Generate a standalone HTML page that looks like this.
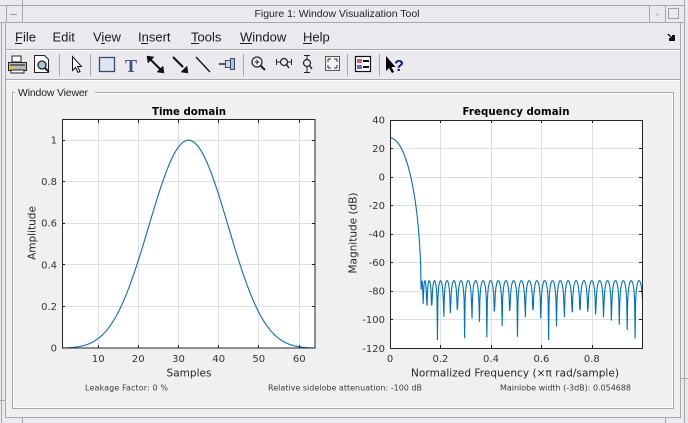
<!DOCTYPE html>
<html><head><meta charset="utf-8">
<style>
html,body{margin:0;padding:0;background:#ebe9ee;overflow:hidden;}
svg{display:block;}
</style></head><body>
<svg id="s" width="688" height="423" viewBox="0 0 688 423" xmlns="http://www.w3.org/2000/svg" font-family="'DejaVu Sans', sans-serif">
<defs>
<clipPath id="c1"><rect x="62" y="119.5" width="253" height="228.5"/></clipPath>
<clipPath id="c2"><rect x="390" y="120" width="252.5" height="228.3"/></clipPath>
</defs>
<rect width="688" height="423" fill="#ebe9ee"/>
<!-- panel -->
<rect x="6" y="80" width="674" height="337" fill="#f0f0f0"/>

<!-- frame lines -->
<g stroke="#a9a8ad" stroke-width="1" fill="none" shape-rendering="crispEdges">
<line x1="0" y1="5.5" x2="685" y2="5.5"/>
<line x1="0" y1="22.5" x2="685" y2="22.5"/>
<line x1="22.5" y1="0" x2="22.5" y2="22"/>
<line x1="6.5" y1="5" x2="6.5" y2="22"/>
<line x1="649.5" y1="5" x2="649.5" y2="22"/>
<line x1="665.5" y1="5" x2="665.5" y2="22"/>
<line x1="684.5" y1="0" x2="684.5" y2="423"/>
<line x1="5.5" y1="22" x2="5.5" y2="418"/>
<line x1="680.5" y1="22" x2="680.5" y2="418"/>
<line x1="5" y1="417.5" x2="681" y2="417.5"/>
<line x1="6" y1="49.5" x2="680" y2="49.5"/>
<line x1="6" y1="79.5" x2="680" y2="79.5"/>
<line x1="22.5" y1="418" x2="22.5" y2="423"/>
<line x1="665.5" y1="418" x2="665.5" y2="423"/>
<line x1="0" y1="400.5" x2="5" y2="400.5"/>
<line x1="681" y1="378.5" x2="688" y2="378.5"/>
<line x1="1.5" y1="22" x2="1.5" y2="423"/>
</g>
<g stroke="#ffffff" stroke-width="1" shape-rendering="crispEdges">
<line x1="6" y1="50.5" x2="680" y2="50.5"/>
<line x1="6" y1="80.5" x2="680" y2="80.5"/>
</g>
<!-- title bar widgets -->
<line x1="10" y1="14.5" x2="17" y2="14.5" stroke="#9a99a0" shape-rendering="crispEdges"/>
<rect x="656.5" y="13.5" width="2" height="2" fill="#b0afb4"/>
<rect x="668.5" y="8.5" width="10" height="10" fill="none" stroke="#a0a0a5" shape-rendering="crispEdges"/>
<text x="337" y="17" text-anchor="middle" font-family="'Liberation Sans', sans-serif" font-size="10.5" fill="#222" textLength="165">Figure 1: Window Visualization Tool</text>

<!-- menu -->
<g font-family="'Liberation Sans', sans-serif" font-size="13" fill="#1a1a1a">
<text x="15" y="41.5">File</text>
<text x="52.5" y="41.5">Edit</text>
<text x="93" y="41.5">View</text>
<text x="138" y="41.5">Insert</text>
<text x="191" y="41.5">Tools</text>
<text x="240" y="41.5">Window</text>
<text x="303" y="41.5">Help</text>
</g>
<g stroke="#1a1a1a" stroke-width="1" shape-rendering="crispEdges">
<line x1="15" y1="43.5" x2="22" y2="43.5"/>
<line x1="101" y1="43.5" x2="105" y2="43.5"/>
<line x1="141" y1="43.5" x2="148" y2="43.5"/>
<line x1="191" y1="43.5" x2="199" y2="43.5"/>
<line x1="240" y1="43.5" x2="252" y2="43.5"/>
<line x1="303" y1="43.5" x2="312" y2="43.5"/>
</g>
<!-- menu right icon -->
<path d="M667 34 L669 34 L672 37 L672 35 L675 35 L675 41 L669 41 L669 38 L671 38 Z" fill="#111"/>

<!-- toolbar separators -->
<g shape-rendering="crispEdges">
<line x1="59.5" y1="54" x2="59.5" y2="76" stroke="#a9a8ad"/>
<line x1="90.5" y1="54" x2="90.5" y2="76" stroke="#a9a8ad"/>
<line x1="243.5" y1="54" x2="243.5" y2="76" stroke="#a9a8ad"/>
<line x1="347.5" y1="54" x2="347.5" y2="76" stroke="#a9a8ad"/>
<line x1="379.5" y1="54" x2="379.5" y2="76" stroke="#a9a8ad"/>
</g>
<!-- printer -->
<g>
<rect x="12" y="56" width="9" height="6" fill="#fff" stroke="#222"/>
<path d="M8.5 62.5 H26.5 V70.5 H8.5 Z" fill="#b8b8b8" stroke="#222"/>
<rect x="10" y="64" width="15" height="2" fill="#666"/>
<rect x="10" y="67" width="4" height="2" fill="#e8d000"/>
<rect x="11" y="70" width="13" height="3" fill="#fff" stroke="#222"/>
</g>
<!-- print preview -->
<g>
<path d="M34.5 55.5 H44.5 L48.5 59.5 V72.5 H34.5 Z" fill="#fff" stroke="#222"/>
<circle cx="42" cy="65" r="4" fill="#a8c8e0" stroke="#222" stroke-width="1.3"/>
<line x1="45" y1="68" x2="49" y2="72" stroke="#222" stroke-width="2"/>
</g>
<!-- arrow cursor -->
<path d="M72.5 56.5 L72.5 70.5 L75.5 67.5 L78 72.5 L80 71.5 L77.5 66.5 L81.5 66.5 Z" fill="#fff" stroke="#111" stroke-width="1"/>
<!-- rectangle -->
<rect x="99.5" y="57.5" width="15" height="14" fill="#dfe6f2" stroke="#3a4a6e" stroke-width="1.3"/>
<!-- T -->
<text x="131" y="72" text-anchor="middle" font-family="'Liberation Serif', serif" font-weight="bold" font-size="18" fill="#3b5282">T</text>
<!-- double arrow -->
<g stroke="#111" stroke-width="2" fill="#111">
<line x1="150" y1="59" x2="160" y2="69"/>
<path d="M147 56 L154 57 L148 63 Z" stroke-width="0.5"/>
<path d="M164 73 L157 72 L163 66 Z" stroke-width="0.5"/>
<line x1="173" y1="57" x2="183" y2="67"/>
<path d="M188 73 L181 72 L187 66 Z" stroke-width="0.5"/>
</g>
<line x1="196" y1="57" x2="210" y2="72" stroke="#111" stroke-width="1.3"/>
<!-- pin -->
<g>
<rect x="219" y="63" width="6" height="2" fill="#555"/>
<path d="M225.5 60.5 H230.5 V67.5 H225.5 Z" fill="#c8d8ee" stroke="#3a4a6e"/>
<path d="M230.5 58.5 H234.5 V69.5 H230.5 Z" fill="#a8c0e0" stroke="#3a4a6e"/>
</g>
<!-- zoom in -->
<g stroke="#222" fill="none">
<circle cx="257" cy="62" r="5" fill="#f4f4f4" stroke-width="1.2"/>
<line x1="254.5" y1="62" x2="259.5" y2="62"/>
<line x1="257" y1="59.5" x2="257" y2="64.5"/>
<line x1="260.5" y1="65.5" x2="265" y2="70" stroke-width="2"/>
</g>
<!-- zoom x -->
<g stroke="#222" fill="none">
<circle cx="284" cy="62" r="3.5" stroke-width="1.2"/>
<line x1="276.5" y1="59" x2="276.5" y2="65"/>
<line x1="291.5" y1="59" x2="291.5" y2="65"/>
<line x1="277" y1="62" x2="280.5" y2="62"/>
<line x1="287.5" y1="62" x2="291" y2="62"/>
<line x1="286.5" y1="64.5" x2="289" y2="68" stroke-width="1.5"/>
</g>
<!-- zoom y -->
<g stroke="#222" fill="none">
<circle cx="307" cy="63" r="3.5" stroke-width="1.2"/>
<line x1="304" y1="55.5" x2="310" y2="55.5"/>
<line x1="304" y1="72.5" x2="310" y2="72.5"/>
<line x1="307" y1="56" x2="307" y2="59.5"/>
<line x1="307" y1="66.5" x2="307" y2="72"/>
<line x1="309.5" y1="65.5" x2="312" y2="69" stroke-width="1.5"/>
</g>
<!-- fit -->
<g>
<rect x="325.5" y="56.5" width="14" height="14" fill="#f2f2f2" stroke="#555"/>
<path d="M328 59 L331 59 M328 59 L328 62 M337 59 L334 59 M337 59 L337 62 M328 68 L331 68 M328 68 L328 65 M337 68 L334 68 M337 68 L337 65" stroke="#333" stroke-width="1"/>
</g>
<!-- legend -->
<g>
<rect x="355.5" y="56.5" width="15" height="15" fill="#fff" stroke="#111" stroke-width="1.2"/>
<rect x="357" y="59" width="5" height="4" fill="#e06060"/>
<rect x="357" y="65" width="5" height="4" fill="#6070e0"/>
<rect x="363" y="60" width="6" height="2" fill="#111"/>
<rect x="363" y="66" width="6" height="2" fill="#111"/>
</g>
<!-- help -->
<path d="M386 56 L386 71 L389 68 L392 73 L394 72 L391.5 67 L395.5 67 Z" fill="#000"/>
<text x="399" y="71" text-anchor="middle" font-family="'Liberation Sans', sans-serif" font-weight="bold" font-size="16" fill="#0a1a80">?</text>

<!-- groupbox -->
<rect x="12.5" y="92.5" width="661" height="316" fill="none" stroke="#a8a8a8" shape-rendering="crispEdges"/>
<rect x="13.5" y="93.5" width="659" height="314" fill="none" stroke="#ffffff" shape-rendering="crispEdges"/>
<rect x="15" y="86" width="80" height="10" fill="#f0f0f0"/>
<text x="18" y="96" font-family="'Liberation Sans', sans-serif" font-size="10.5" fill="#222" textLength="70">Window Viewer</text>

<!-- LEFT AXES -->
<rect x="62" y="119.5" width="253" height="228.5" fill="#fff"/>
<g stroke="#dfdfdf" stroke-width="1" shape-rendering="crispEdges">
<line x1="98.5" y1="120" x2="98.5" y2="348"/>
<line x1="138.5" y1="120" x2="138.5" y2="348"/>
<line x1="178.5" y1="120" x2="178.5" y2="348"/>
<line x1="218.5" y1="120" x2="218.5" y2="348"/>
<line x1="258.5" y1="120" x2="258.5" y2="348"/>
<line x1="299.5" y1="120" x2="299.5" y2="348"/>
<line x1="62" y1="306.5" x2="315" y2="306.5"/>
<line x1="62" y1="264.5" x2="315" y2="264.5"/>
<line x1="62" y1="223.5" x2="315" y2="223.5"/>
<line x1="62" y1="181.5" x2="315" y2="181.5"/>
<line x1="62" y1="140.5" x2="315" y2="140.5"/>
</g>
<g id="tcurve" clip-path="url(#c1)"></g>
<g stroke="#262626" stroke-width="1" fill="none" shape-rendering="crispEdges">
<rect x="62.5" y="119.5" width="252.5" height="228.5"/>
<path d="M98.5 348 v-3 M138.5 348 v-3 M178.5 348 v-3 M218.5 348 v-3 M258.5 348 v-3 M299.5 348 v-3
M98.5 120 v3 M138.5 120 v3 M178.5 120 v3 M218.5 120 v3 M258.5 120 v3 M299.5 120 v3
M62 306.5 h3 M62 264.5 h3 M62 223.5 h3 M62 181.5 h3 M62 140.5 h3
M315 306.5 h-3 M315 264.5 h-3 M315 223.5 h-3 M315 181.5 h-3 M315 140.5 h-3"/>
</g>
<g font-size="10" fill="#333" text-anchor="end">
<text x="57" y="351.5">0</text>
<text x="57" y="310">0.2</text>
<text x="57" y="268.3">0.4</text>
<text x="57" y="226.7">0.6</text>
<text x="57" y="185">0.8</text>
<text x="57" y="143.5">1</text>
</g>
<g font-size="10" fill="#333" text-anchor="middle">
<text x="98.3" y="362">10</text>
<text x="138.3" y="362">20</text>
<text x="178.5" y="362">30</text>
<text x="218.7" y="362">40</text>
<text x="258.8" y="362">50</text>
<text x="299.2" y="362">60</text>
</g>
<text x="189" y="376.5" font-size="10.5" fill="#262626" text-anchor="middle" textLength="45">Samples</text>
<text transform="translate(35.5 233) rotate(-90)" font-size="10.5" fill="#262626" text-anchor="middle">Amplitude</text>
<text x="189" y="115" font-size="10.2" font-weight="bold" fill="#000" text-anchor="middle" textLength="74">Time domain</text>

<!-- RIGHT AXES -->
<rect x="390" y="120" width="252.5" height="228.3" fill="#fff"/>
<g stroke="#dfdfdf" stroke-width="1" shape-rendering="crispEdges">
<line x1="440.5" y1="120" x2="440.5" y2="348"/>
<line x1="491.5" y1="120" x2="491.5" y2="348"/>
<line x1="541.5" y1="120" x2="541.5" y2="348"/>
<line x1="592.5" y1="120" x2="592.5" y2="348"/>
<line x1="390" y1="148.5" x2="642" y2="148.5"/>
<line x1="390" y1="177.5" x2="642" y2="177.5"/>
<line x1="390" y1="205.5" x2="642" y2="205.5"/>
<line x1="390" y1="234.5" x2="642" y2="234.5"/>
<line x1="390" y1="262.5" x2="642" y2="262.5"/>
<line x1="390" y1="291.5" x2="642" y2="291.5"/>
<line x1="390" y1="319.5" x2="642" y2="319.5"/>
</g>
<g id="fcurve" clip-path="url(#c2)"></g>
<g stroke="#262626" stroke-width="1" fill="none" shape-rendering="crispEdges">
<rect x="390.5" y="120.5" width="252" height="227.8"/>
<path d="M440.5 348 v-3 M491.5 348 v-3 M541.5 348 v-3 M592.5 348 v-3
M440.5 120 v3 M491.5 120 v3 M541.5 120 v3 M592.5 120 v3
M390 148.5 h3 M390 177.5 h3 M390 205.5 h3 M390 234.5 h3 M390 262.5 h3 M390 291.5 h3 M390 319.5 h3
M642 148.5 h-3 M642 177.5 h-3 M642 205.5 h-3 M642 234.5 h-3 M642 262.5 h-3 M642 291.5 h-3 M642 319.5 h-3"/>
</g>
<g font-size="10" fill="#333" text-anchor="end">
<text x="385" y="123.5">40</text>
<text x="385" y="152">20</text>
<text x="385" y="180.6">0</text>
<text x="385" y="209.1">-20</text>
<text x="385" y="237.6">-40</text>
<text x="385" y="266.1">-60</text>
<text x="385" y="294.7">-80</text>
<text x="385" y="323.2">-100</text>
<text x="385" y="351.8">-120</text>
</g>
<g font-size="10" fill="#333" text-anchor="middle">
<text x="390" y="362">0</text>
<text x="440.4" y="362">0.2</text>
<text x="491" y="362">0.4</text>
<text x="541.4" y="362">0.6</text>
<text x="591.8" y="362">0.8</text>
</g>
<text x="515" y="376.5" font-size="10.5" fill="#262626" text-anchor="middle" textLength="208">Normalized Frequency  (×π rad/sample)</text>
<text transform="translate(356.5 233) rotate(-90)" font-size="10.5" fill="#262626" text-anchor="middle">Magnitude (dB)</text>
<text x="516" y="115" font-size="10.2" font-weight="bold" fill="#000" text-anchor="middle" textLength="107">Frequency domain</text>

<!-- bottom info -->
<g font-size="8" fill="#3a3a3a">
<text x="85" y="390.5" textLength="83">Leakage Factor: 0 %</text>
<text x="268" y="390.5" textLength="154">Relative sidelobe attenuation: -100 dB</text>
<text x="500" y="390.5" textLength="131">Mainlobe width (-3dB): 0.054688</text>
</g>
</svg>
<script>
(function(){
var N=64,r=100;
var gamma=Math.pow(10,-r/20);
var beta=Math.cosh(Math.acosh(1/gamma)/(N-1));
var p=[],k,j;
for(k=0;k<N;k++){
  var x=beta*Math.cos(Math.PI*k/N),v;
  if(x>1)v=Math.cosh((N-1)*Math.acosh(x));
  else if(x<-1)v=-Math.cosh((N-1)*Math.acosh(-x));
  else v=Math.cos((N-1)*Math.acos(x));
  p.push(v);
}
var w=[],c=(N-1)/2;
for(j=0;j<N;j++){var s=0;for(k=0;k<N;k++)s+=p[k]*Math.cos(2*Math.PI*k*(j-c)/N);w.push(s);}
var mx=-1e300;for(j=0;j<N;j++)if(w[j]>mx)mx=w[j];
for(j=0;j<N;j++)w[j]/=mx;
var ns="http://www.w3.org/2000/svg";
var d="";
for(j=0;j<N;j++){
  var X=62+j*253/63, Y=348-w[j]*207.7;
  d+=(j?"L":"M")+X.toFixed(2)+" "+Y.toFixed(2);
}
var pa=document.createElementNS(ns,"path");
pa.setAttribute("d",d);pa.setAttribute("fill","none");pa.setAttribute("stroke","#0072BD");pa.setAttribute("stroke-width","1.1");
document.getElementById("tcurve").appendChild(pa);
var M=512,d2="";
for(var i=0;i<M;i++){
  var f=i/M,re=0,im=0;
  for(j=0;j<N;j++){var a=Math.PI*f*j;re+=w[j]*Math.cos(a);im-=w[j]*Math.sin(a);}
  var mag=Math.sqrt(re*re+im*im);
  var db=20*Math.log(Math.max(mag,1e-12))/Math.LN10;
  if(db<-140)db=-140;
  var X2=390+(f/(511/512))*252.5, Y2=120+(40-db)*228.3/160;
  d2+=(i?"L":"M")+X2.toFixed(2)+" "+Y2.toFixed(2);
}
var pb=document.createElementNS(ns,"path");
pb.setAttribute("d",d2);pb.setAttribute("fill","none");pb.setAttribute("stroke","#0072BD");pb.setAttribute("stroke-width","1.1");
document.getElementById("fcurve").appendChild(pb);
})();
</script>
</body></html>
